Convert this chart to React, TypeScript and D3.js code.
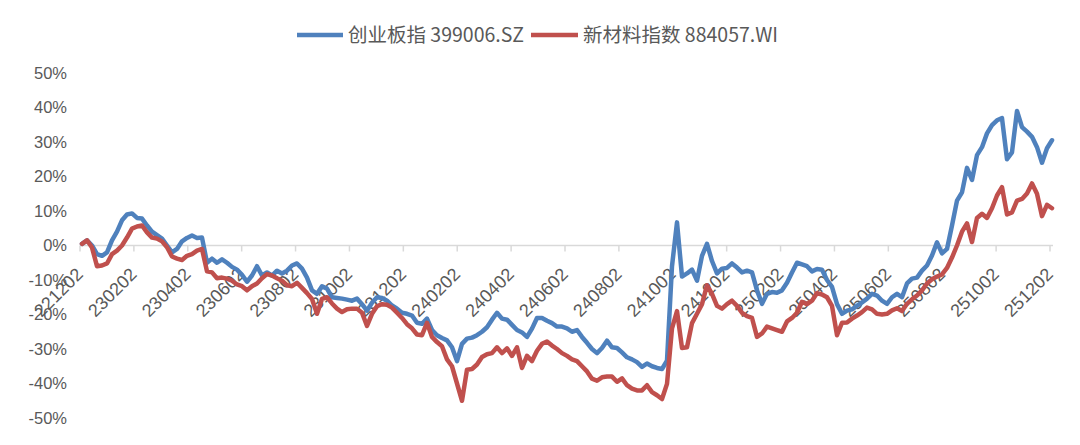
import React from 'react';
import * as d3 from 'd3';

const xLabels = [
  '221202', '230202', '230402', '230602', '230802', '231002', '231202',
  '240202', '240402', '240602', '240802', '241002', '241202',
  '250202', '250402', '250602', '250802', '251002', '251202',
];

const yTicks = [50, 40, 30, 20, 10, 0, -10, -20, -30, -40, -50];

const seriesNames = ['创业板指 399006.SZ', '新材料指数 884057.WI'];
const seriesColors = ['#4F81BD', '#C0504D'];

// 创业板指 cumulative return (%)
const cybValues = [
  0.5, 1.5, 0, -2.5, -3, -2, 1.5, 4, 7.3, 9,
  9.3, 8, 7.8, 5.8, 4, 3, 2, 0, -2, -1,
  1.2, 2.2, 2.9, 2.2, 2.3, -5, -3.8, -5, -4, -5,
  -6.2, -7, -8.5, -10.5, -8.7, -6, -8.7, -7.8, -8.7, -7.3,
  -8.1, -7.3, -5.8, -5.2, -6.7, -9.3, -13, -14, -11.8, -12.5,
  -15, -15.2, -15.4, -15.7, -16, -15.4, -17, -18.9, -16.6, -15,
  -15.2, -16, -17.4, -18.3, -19.5, -19.8, -20.3, -22.4, -22.7, -21.2,
  -24.5, -26, -26.8, -27.5, -29.5, -33.5, -28.5, -27, -26.7, -26,
  -25, -23.7, -21.5, -19.5, -21.2, -21.5, -23, -24.5, -25.2, -26.5,
  -24.1, -21, -21, -21.8, -22.5, -23.5, -23.5, -24, -25, -24.5,
  -26.5, -28.2, -30, -31.2, -29.7, -27.6, -29.5, -29.7, -31, -32.4,
  -33, -33.8, -35.2, -34.2, -35, -35.5, -35.8, -33.4, -6, 6.7,
  -9, -8.1, -7, -10.2, -3, 0.5, -4.5, -8.1, -6.7, -6.5,
  -5.2, -6.4, -7.8, -7.3, -7.8, -13, -16.9, -14, -13.5, -13.7,
  -13, -10.8, -7.8, -5, -5.5, -6, -7.5, -6.8, -7, -10,
  -12, -17, -19.8, -18.9, -18.5, -17.5, -16.5, -15.4, -14, -14.5,
  -16, -16.9, -15, -14, -15, -11, -9.6, -9.3, -7.3, -5.8,
  -2.9, 0.9, -2.3, -1, 5.8, 13, 15.4, 22.5, 19, 26.2,
  28.5, 32.5, 34.9, 36.3, 36.9, 25, 27, 39, 34.3, 33,
  31.5, 28.5, 24, 28.2, 30.5,
];

// 新材料指数 cumulative return (%)
const xclValues = [
  0.5, 1.5, -0.6, -6, -5.8, -5.2, -2.5, -1.5, 0, 2.3,
  4.9, 5.5, 5.8, 3.8, 2.3, 2, 1.2, -0.5, -3.2, -3.8,
  -4.2, -3, -2.5, -1.5, -1, -7.5, -7.8, -9.5, -9.3, -9.6,
  -10.2, -11.3, -11.8, -13, -11.8, -11, -9.5, -8.3, -8.7, -9.5,
  -10.2, -11.5, -11.8, -10.8, -12.3, -13.8, -15.5, -19.8, -15.5, -15,
  -16.8, -18.3, -19.3, -18.5, -18.3, -18.3, -19.5, -23.3, -19.8, -17.6,
  -17, -17.2, -18, -19.5, -21, -22.8, -24, -25.8, -26, -22.4,
  -26.5, -28, -29.2, -33, -35, -40, -45, -36, -35.8, -34.5,
  -32.3, -31.5, -31.2, -29.5, -31.2, -29.8, -32, -29.5, -35.5, -32,
  -33.5, -30.5, -28.5, -27.8, -29, -30, -31.2, -32, -33, -33.5,
  -35, -36.5, -38.6, -39.2, -38.2, -38, -38, -39.5, -38.5, -40.5,
  -41.5, -42, -42, -40.5, -42.5, -43.4, -44.5, -40.1, -24, -19,
  -29.7, -29.5, -22.5, -19.8, -17, -11.5, -14, -17.5, -18.3, -17,
  -16, -17.5, -19.5, -20.5, -21, -26.5, -25.5, -23.5, -24, -24.5,
  -25, -22, -21, -19.5, -16.3, -17, -16, -13.8, -14.2, -15,
  -17.5, -26, -22.4, -22.3, -21.2, -20.3, -19.3, -18, -18.5, -19.8,
  -20, -19.8, -18.8, -18.2, -19, -16.9, -15.6, -14.5, -13, -11,
  -9.8, -9, -8.4, -6.5, -3.5, 0, 4, 6.4, 1, 8,
  9.2, 8, 10.8, 14.5, 16.9, 9, 9.6, 13, 13.5, 15.1,
  18, 15, 8.5, 11.8, 10.8,
];

const W = 1080;
const H = 445;

export default function App() {
  const n = cybValues.length;
  const x = d3.scaleLinear().domain([0, n - 1]).range([82, 1052]);
  const xt = d3.scalePoint<string>().domain(xLabels).range([80, 1050]);
  const y = d3.scaleLinear().domain([-50, 50]).range([418, 73]);
  const line = d3
    .line<number>()
    .x((_, i) => x(i))
    .y((d) => y(d));

  const axisY = y(0);
  const labelFont = '"Liberation Sans", Arial, sans-serif';
  const series = [cybValues, xclValues];

  return (
    <svg
      width={W}
      height={H}
      viewBox={`0 0 ${W} ${H}`}
      style={{ position: 'absolute', left: 0, top: 0, background: '#fff' }}
    >
      <rect x={0} y={0} width={W} height={H} fill="#fff" />
      {/* legend */}
      <g fontFamily='"Noto Sans CJK SC", sans-serif' fontSize={19.5} fill="#595959">
        <line x1={297} x2={343} y1={35} y2={35} stroke={seriesColors[0]} strokeWidth={4.5} />
        <text x={348} y={42}>{seriesNames[0]}</text>
        <line x1={531} x2={578} y1={35} y2={35} stroke={seriesColors[1]} strokeWidth={4.5} />
        <text x={583} y={42}>{seriesNames[1]}</text>
      </g>
      {/* y axis labels */}
      <g fontFamily={labelFont} fontSize={16.5} fill="#595959" textAnchor="end">
        {yTicks.map((t) => (
          <text key={t} x={67} y={y(t)} dy="0.36em">
            {`${t}%`}
          </text>
        ))}
      </g>
      {/* x axis line and ticks */}
      <line x1={80} x2={1053} y1={axisY} y2={axisY} stroke="#d9d9d9" strokeWidth={1.5} />
      {xLabels.map((l) => (
        <line key={'t' + l} x1={xt(l)} x2={xt(l)} y1={axisY} y2={axisY + 6} stroke="#d9d9d9" strokeWidth={1.5} />
      ))}
      <g fontFamily={labelFont} fontSize={18} fill="#595959" textAnchor="end">
        {xLabels.map((l) => {
          const px = (xt(l) as number) + 4;
          const py = axisY + 30;
          return (
            <text key={l} x={px} y={py} transform={`rotate(-45 ${px} ${py})`}>
              {l}
            </text>
          );
        })}
      </g>
      {/* lines */}
      {series.map((s, i) => (
        <path
          key={i}
          d={line(s) || ''}
          fill="none"
          stroke={seriesColors[i]}
          strokeWidth={4.5}
          strokeLinejoin="round"
          strokeLinecap="round"
        />
      ))}
    </svg>
  );
}
